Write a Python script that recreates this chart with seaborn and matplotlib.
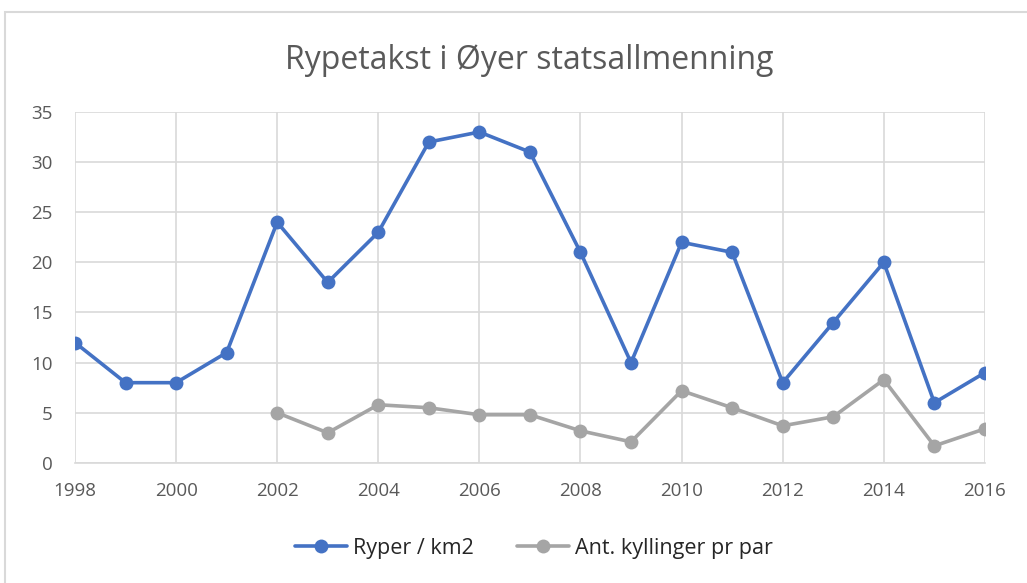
import numpy as np
import pandas as pd
import matplotlib
matplotlib.use("Agg")
import matplotlib.pyplot as plt
import seaborn as sns
from matplotlib.patches import Rectangle

years = list(range(1998, 2017))
ryper = [12, 8, 8, 11, 24, 18, 23, 32, 33, 31, 21, 10, 22, 21, 8, 14, 20, 6, 9]
kyllinger = [np.nan, np.nan, np.nan, np.nan, 5.0, 3.0, 5.8, 5.5, 4.8, 4.8, 3.2, 2.1,
             7.2, 5.5, 3.7, 4.6, 8.3, 1.7, 3.4]
series_names = ['Ryper / km2', 'Ant. kyllinger pr par']
colors = ['#4472C4', '#A5A5A5']

df = pd.DataFrame({
    'År': years * 2,
    'Verdi': ryper + kyllinger,
    'Serie': [series_names[0]] * len(years) + [series_names[1]] * len(years),
})

sns.set_style('white')
plt.rcParams['font.family'] = ['Open Sans', 'DejaVu Sans']

fig = plt.figure(figsize=(10.27, 5.83), dpi=100)
ax = fig.add_axes([0.073, 0.206, 0.886, 0.602])

sns.lineplot(data=df, x='År', y='Verdi', hue='Serie', palette=colors,
             marker='o', markersize=10, markeredgewidth=0, linewidth=2.6,
             ax=ax, legend=False)

ax.set_xlim(1998, 2016)
ax.set_ylim(0, 35)
ax.set_xticks(range(1998, 2017, 2))
ax.set_yticks(range(0, 36, 5))
ax.grid(True, color='#D9D9D9', linewidth=1.2)
ax.set_axisbelow(True)
for s in ['top', 'right', 'left']:
    ax.spines[s].set_visible(False)
ax.spines['bottom'].set_color('#D9D9D9')
ax.spines['bottom'].set_linewidth(1.2)
ax.tick_params(axis='both', length=0, labelsize=13.5, colors='#595959')
ax.tick_params(axis='x', pad=14)
ax.tick_params(axis='y', pad=16)
ax.set_xlabel('')
ax.set_ylabel('')

fig.text(0.515, 0.897, 'Rypetakst i Øyer statsallmenning', ha='center', va='center',
         fontsize=23, color='#595959')

handles = [plt.Line2D([], [], color=c, marker='o', markersize=10, linewidth=2.6,
                      markeredgewidth=0) for c in colors]
fig.legend(handles, series_names, loc='center', bbox_to_anchor=(0.52, 0.06), ncol=2,
           frameon=False, fontsize=15.5, handlelength=2.4, columnspacing=2.0,
           handletextpad=0.3)

fig.patches.append(Rectangle((5 / 1027, -0.05), 1.1, 1.05 - 12 / 583,
                             transform=fig.transFigure, fill=False,
                             edgecolor='#D9D9D9', linewidth=1.5, figure=fig))

fig.savefig('out.png', dpi=100, facecolor='white')
